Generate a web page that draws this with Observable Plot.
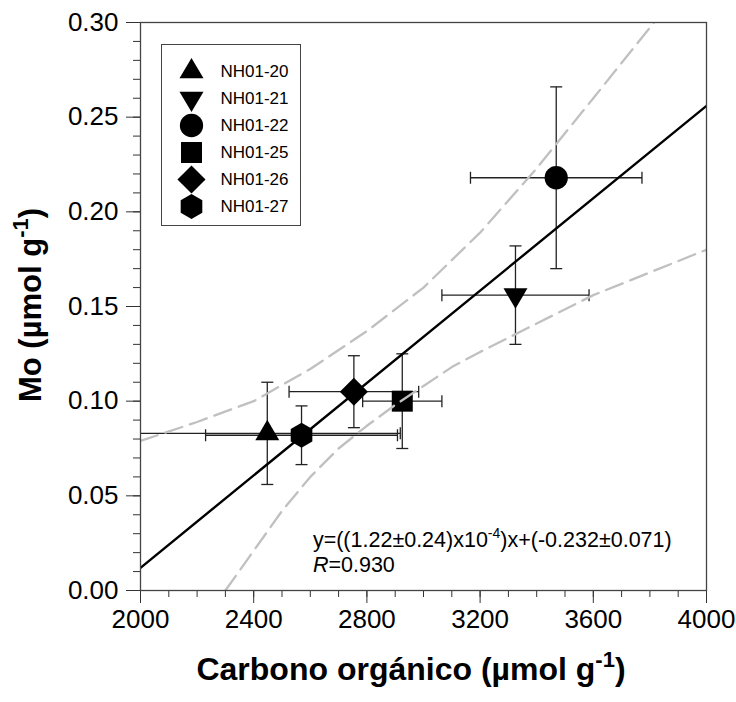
<!DOCTYPE html>
<html><head><meta charset="utf-8">
<script src="https://cdn.jsdelivr.net/npm/d3@7"></script>
<script src="https://cdn.jsdelivr.net/npm/@observablehq/plot@0.6"></script>
<style>
body{margin:0;background:#fff;}
#wrap{position:relative;width:736px;height:702px;font-family:'Liberation Sans',Arial,sans-serif;}
#legend{position:absolute;left:161px;top:44px;border:1.5px solid #444;background:#fff;line-height:0}
</style></head><body><div id="wrap"><div id="legend"></div></div>
<script>
// ---- data ----
const samples   = ["NH01-20", "NH01-21", "NH01-22", "NH01-25", "NH01-26", "NH01-27"];
const carbon    = [2448, 3325, 3469, 2925, 2754, 2569];
const carbonErr = [470, 260, 303, 140, 229, 339];
const mo        = [0.083, 0.156, 0.218, 0.100, 0.105, 0.082];
const moErr     = [0.027, 0.026, 0.048, 0.025, 0.019, 0.0155];

const fitX = [2000, 4000];
const fitY = [0.012, 0.256];

const upperX = [2000, 2200, 2400, 2600, 2800, 3000, 3200, 3400, 3600, 3820];
const upperY = [0.079, 0.089, 0.100, 0.117, 0.137, 0.160, 0.189, 0.223, 0.260, 0.301];
const lowerX = [2300, 2400, 2500, 2600, 2700, 2800, 2900, 3000, 3100, 3200, 3400, 3600, 3800, 4000];
const lowerY = [0.000, 0.021, 0.042, 0.060, 0.075, 0.087, 0.098, 0.108, 0.118, 0.126, 0.141, 0.156, 0.168, 0.180];

const xMajor = [2000, 2400, 2800, 3200, 3600, 4000];
const xMinor = d3.range(2000, 4001, 100);
const yMajor = [0, 0.05, 0.10, 0.15, 0.20, 0.25, 0.30];
const yMinor = d3.range(0, 31).map(i => i / 100);

const noteX = 2611;
const noteY = [0.0227, 0.0095];

// ---- symbols ----
const R = s => Math.sqrt(s / Math.PI);
const triUp = {draw(c, s){ const r=R(s), w=r, h=1.7*r; c.moveTo(0,-2*h/3); c.lineTo(w,h/3); c.lineTo(-w,h/3); c.closePath(); }};
const triDown = {draw(c, s){ const r=R(s), w=r, h=1.7*r; c.moveTo(0,2*h/3); c.lineTo(w,-h/3); c.lineTo(-w,-h/3); c.closePath(); }};
const circ = {draw(c, s){ const r=0.97*R(s); c.moveTo(r,0); c.arc(0,0,r,0,2*Math.PI); c.closePath(); }};
const sq = {draw(c, s){ const h=0.875*R(s); c.rect(-h,-h,2*h,2*h); }};
const diam = {draw(c, s){ const d=1.17*R(s); c.moveTo(0,-d); c.lineTo(d,0); c.lineTo(0,d); c.lineTo(-d,0); c.closePath(); }};
const hex = {draw(c, s){ const r=1.04*R(s); for(let k=0;k<6;k++){ const a=(-90+60*k)*Math.PI/180; const px=r*Math.cos(a), py=r*Math.sin(a); if(k===0) c.moveTo(px,py); else c.lineTo(px,py);} c.closePath(); }};
const symbolList = [triUp, triDown, circ, sq, diam, hex];
const vcap = {draw(c){ c.moveTo(0,-6); c.lineTo(0,6); }};
const hcap = {draw(c){ c.moveTo(-6,0); c.lineTo(6,0); }};

const data = samples.map((s, i) => ({sample: s, x: carbon[i], xe: carbonErr[i], y: mo[i], ye: moErr[i]}));
const upper = upperX.map((x, i) => ({x, y: upperY[i]}));
const lower = lowerX.map((x, i) => ({x, y: lowerY[i]}));
const fit = fitX.map((x, i) => ({x, y: fitY[i]}));

const barStyle = {stroke: "#222", strokeWidth: 1.3, clip: true};
const bandStyle = {stroke: "#c0c0c0", strokeWidth: 2.3, strokeDasharray: "18,8", clip: true};

const plot = Plot.plot({
  width: 736, height: 702,
  marginLeft: 140, marginRight: 30, marginTop: 22, marginBottom: 112,
  style: {fontFamily: "'Liberation Sans', Arial, sans-serif", fontSize: "26px", color: "black", background: "white", overflow: "visible"},
  x: {domain: [2000, 4000]},
  y: {domain: [0, 0.30]},
  symbol: {domain: samples, range: symbolList},
  marks: [
    Plot.axisX({ticks: xMinor, tickSize: 7, tickFormat: () => "", label: null, stroke: "#333"}),
    Plot.axisX({ticks: xMajor, tickSize: 13, tickPadding: 6, tickFormat: d3.format("d"), label: null, stroke: "#333", fontSize: 26}),
    Plot.axisY({ticks: yMinor, tickSize: 7, tickFormat: () => "", label: null, stroke: "#333"}),
    Plot.axisY({ticks: yMajor, tickSize: 14, tickPadding: 8, tickFormat: d3.format(".2f"), label: null, stroke: "#333", fontSize: 26}),
    Plot.link(data, {x1: d => d.x - d.xe, x2: d => d.x + d.xe, y1: "y", y2: "y", ...barStyle}),
    Plot.link(data, {x1: "x", x2: "x", y1: d => d.y - d.ye, y2: d => d.y + d.ye, ...barStyle}),
    Plot.dot(data, {x: d => d.x - d.xe, y: "y", symbol: vcap, fill: "none", ...barStyle}),
    Plot.dot(data, {x: d => d.x + d.xe, y: "y", symbol: vcap, fill: "none", ...barStyle}),
    Plot.dot(data, {x: "x", y: d => d.y - d.ye, symbol: hcap, fill: "none", ...barStyle}),
    Plot.dot(data, {x: "x", y: d => d.y + d.ye, symbol: hcap, fill: "none", ...barStyle}),
    Plot.line(fit, {x: "x", y: "y", stroke: "black", strokeWidth: 2.4, clip: true}),
    Plot.dot(data, {x: "x", y: "y", symbol: "sample", fill: "black", stroke: "none", r: 12}),
    Plot.line(upper, {x: "x", y: "y", ...bandStyle}),
    Plot.line(lower, {x: "x", y: "y", ...bandStyle}),
    Plot.frame({stroke: "#444", strokeWidth: 1.3})
  ]
});

const wrap = document.getElementById("wrap");
wrap.insertBefore(plot, wrap.firstChild);
plot.style.position = "absolute"; plot.style.left = "0"; plot.style.top = "0";

const svg = d3.select(plot);
const sx = plot.scale("x"), sy = plot.scale("y");

// axis titles
const xt = svg.append("text").attr("x", 411).attr("y", 680).attr("text-anchor", "middle")
  .attr("font-size", 32).attr("font-weight", "bold").attr("fill", "black");
xt.append("tspan").text("Carbono orgánico (µmol g");
xt.append("tspan").attr("font-size", 22).attr("dy", -13).text("-1");
xt.append("tspan").attr("dy", 13).text(")");

const yt = svg.append("text").attr("transform", "translate(41,305) rotate(-90)").attr("text-anchor", "middle")
  .attr("font-size", 31).attr("font-weight", "bold").attr("fill", "black");
yt.append("tspan").text("Mo (µmol g");
yt.append("tspan").attr("font-size", 22).attr("dy", -13).text("-1");
yt.append("tspan").attr("dy", 13).text(")");

// regression annotation
const n1 = svg.append("text").attr("x", sx.apply(noteX)).attr("y", sy.apply(noteY[0])).attr("text-anchor", "start").attr("font-size", 21.5).attr("fill", "black");
n1.append("tspan").text("y=((1.22±0.24)x10");
n1.append("tspan").attr("font-size", 14).attr("dy", -9).text("-4");
n1.append("tspan").attr("dy", 9).text(")x+(-0.232±0.071)");
const n2 = svg.append("text").attr("x", sx.apply(noteX)).attr("y", sy.apply(noteY[1])).attr("text-anchor", "start").attr("font-size", 21.5).attr("fill", "black");
n2.append("tspan").attr("font-style", "italic").text("R");
n2.append("tspan").text("=0.930");

// legend
const legend = Plot.plot({
  width: 138, height: 180, margin: 0,
  style: {fontFamily: "'Liberation Sans', Arial, sans-serif", fontSize: "17px", color: "black", background: "white"},
  x: {domain: [0, 1], range: [29, 58], axis: null},
  y: {type: "point", domain: samples, range: [25.5, 160.5], padding: 0, axis: null},
  symbol: {domain: samples, range: symbolList},
  marks: [
    Plot.dot(samples, {x: () => 0, y: d => d, symbol: d => d, fill: "black", stroke: "none", r: 12}),
    Plot.text(samples, {x: () => 1, y: d => d, text: d => d, textAnchor: "start", fontSize: 17})
  ]
});
document.getElementById("legend").appendChild(legend);
</script></body></html>
